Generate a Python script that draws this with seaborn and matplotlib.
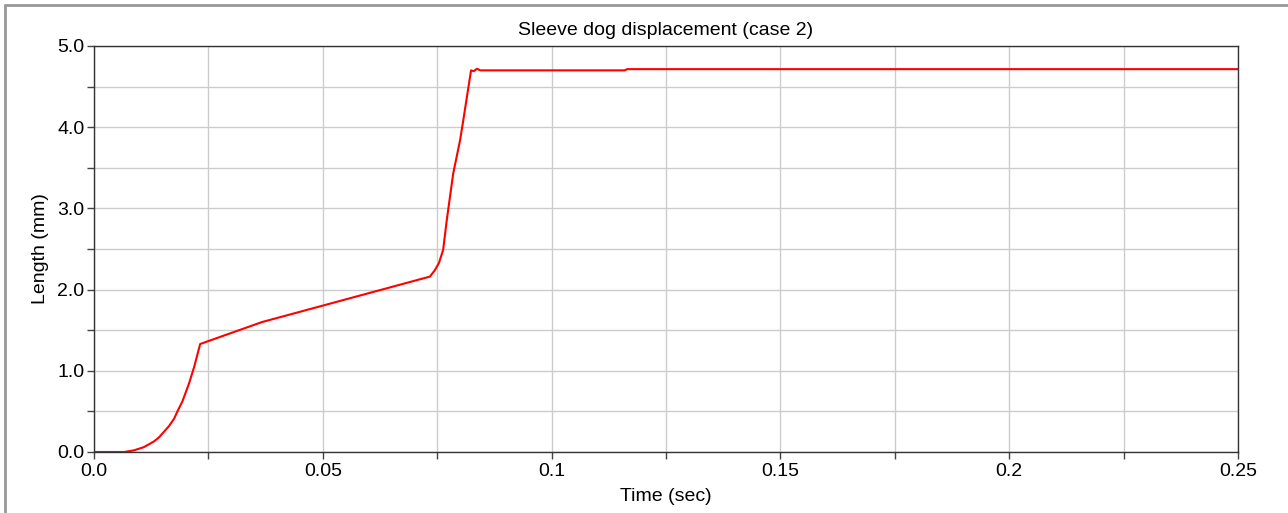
import numpy as np
import pandas as pd
import matplotlib
matplotlib.use("Agg")
import matplotlib.pyplot as plt
from matplotlib.lines import Line2D
from matplotlib.ticker import MultipleLocator, FixedLocator, FixedFormatter
import seaborn as sns

# Sleeve dog displacement over time (case 2)
time_sec = [0.0, 0.0066, 0.0087, 0.0109, 0.0131, 0.0142, 0.0153, 0.0164, 0.0175,
            0.0184, 0.0193, 0.0208, 0.0219, 0.0232, 0.0262, 0.0367, 0.0734, 0.0745,
            0.0754, 0.0763, 0.0771, 0.0785, 0.0800, 0.0806, 0.0824, 0.0830, 0.0837,
            0.0844, 0.1160, 0.1165, 0.2500]
length_mm = [0.0, 0.0, 0.02, 0.06, 0.13, 0.18, 0.25, 0.32, 0.41,
             0.52, 0.62, 0.85, 1.05, 1.33, 1.39, 1.60, 2.16, 2.24,
             2.33, 2.49, 2.86, 3.43, 3.84, 4.05, 4.70, 4.69, 4.72,
             4.70, 4.70, 4.715, 4.715]

x_ticks = [0.0, 0.05, 0.1, 0.15, 0.2, 0.25]
x_tick_labels = ["0.0", "0.05", "0.1", "0.15", "0.2", "0.25"]
y_ticks = [0.0, 1.0, 2.0, 3.0, 4.0, 5.0]
y_tick_labels = ["0.0", "1.0", "2.0", "3.0", "4.0", "5.0"]

df = pd.DataFrame({"Time (sec)": time_sec, "Length (mm)": length_mm})

sns.set_theme(style="white")
plt.rcParams["font.family"] = ["Liberation Sans", "DejaVu Sans"]

fig = plt.figure(figsize=(12.88, 5.13), dpi=100)
ax = fig.add_axes([94 / 1288, 1 - 452 / 513, (1238 - 94) / 1288, (452 - 46) / 513])

sns.lineplot(data=df, x="Time (sec)", y="Length (mm)", ax=ax, color="#ff0000",
             linewidth=1.5, estimator=None, sort=False)

ax.set_xlim(0, 0.25)
ax.set_ylim(0, 5.0)

ax.xaxis.set_major_locator(FixedLocator(x_ticks))
ax.xaxis.set_major_formatter(FixedFormatter(x_tick_labels))
ax.xaxis.set_minor_locator(MultipleLocator(0.025))
ax.yaxis.set_major_locator(FixedLocator(y_ticks))
ax.yaxis.set_major_formatter(FixedFormatter(y_tick_labels))
ax.yaxis.set_minor_locator(MultipleLocator(0.5))

ax.grid(True, which="both", color="#cccccc", linewidth=1.0)
ax.set_axisbelow(True)

ax.tick_params(axis="both", which="both", direction="out", length=5, width=1,
               color="#444444", labelsize=14, labelcolor="black",
               bottom=True, left=True, pad=2)
ax.tick_params(axis="x", which="major", pad=3)

for side in ["left", "bottom", "top", "right"]:
    ax.spines[side].set_visible(True)
    ax.spines[side].set_color("#333333")
    ax.spines[side].set_linewidth(1.0)

ax.set_title("Sleeve dog displacement (case 2)", fontsize=14, color="black", pad=8)
ax.set_xlabel("Time (sec)", fontsize=14, color="black", labelpad=6)
ax.set_ylabel("Length (mm)", fontsize=14, color="black", labelpad=6)

# Outer panel border (left and top edges)
fig.add_artist(Line2D([5 / 1288, 5 / 1288], [0, 1 - 5 / 513], transform=fig.transFigure,
                      color="#999999", linewidth=2))
fig.add_artist(Line2D([5 / 1288, 1], [1 - 5 / 513, 1 - 5 / 513], transform=fig.transFigure,
                      color="#999999", linewidth=2))

fig.savefig("out.png", dpi=100)
